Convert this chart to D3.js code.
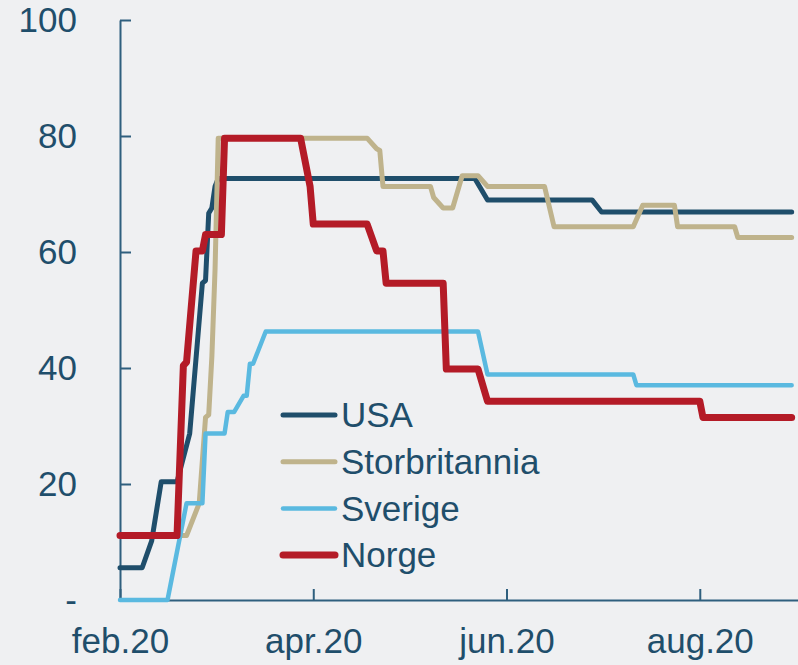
<!DOCTYPE html>
<html>
<head>
<meta charset="utf-8">
<script src="https://cdn.jsdelivr.net/npm/d3@7"></script>
<style>
  html, body { margin: 0; padding: 0; background: #eff0f2; }
  svg { display: block; }
  text { font-family: "Liberation Sans", Arial, sans-serif; }
</style>
</head>
<body>
<div id="chart"></div>
<script>
const seriesNames = ["USA", "Storbritannia", "Sverige", "Norge"];

const usa = [[0,5.56],[7,5.56],[10,10.19],[13,20.37],[18,20.37],[22,28.7],[26,54.63],[27,55.09],
  [28,66.67],[29,67.59],[30,71.3],[31,72.69],[112,72.69],[116,68.98],[149,68.98],[152,66.9],[212,66.9]];

const storbritannia = [[0,11.11],[21,11.11],[25,16.67],[27,31.48],[28,31.94],[29,42.0],[30,57.0],[31,79.63],
  [78,79.63],[81,77.8],[82,77.5],[83,71.3],[98,71.3],[99,69.4],[102,67.59],[105,67.59],[108,73.15],
  [113,73.15],[116,71.3],[134,71.3],[137,64.35],[162,64.35],[165,68.06],[175,68.06],[176,64.35],
  [194,64.35],[195,62.5],[212,62.5]];

const sverige = [[0,0],[15,0],[21,16.67],[26,16.67],[27,28.7],[33,28.7],[34,32.4],[36,32.4],[39,35.2],
  [40,35.2],[41,40.74],[42,40.74],[46,46.3],[113,46.3],[116,38.89],[162,38.89],[163,37.04],[212,37.04]];

const norge = [[0,11.11],[18,11.11],[20,40.4],[21,41.0],[24,60.19],[26,60.19],[27,63.0],[32,63.0],[33,79.63],
  [57,79.63],[60,71.3],[61,64.81],[78,64.81],[81,60.19],[83,60.19],[84,54.63],[102,54.63],[103,39.81],
  [113,39.81],[116,34.26],[183,34.26],[184,31.48],[212,31.48]];

const xTickDays = [0, 61, 122, 183];
const xTickLabels = ["feb.20", "apr.20", "jun.20", "aug.20"];
const yTicks = [0, 20, 40, 60, 80, 100];
const yTickLabels = ["-", "20", "40", "60", "80", "100"];

const seriesData = [usa, storbritannia, sverige, norge];
const colors = ["#1f4e6b", "#bfb38c", "#5ab9e0", "#b41b27"];
const widths = [5, 5, 4.5, 7];

const W = 798, H = 665;
const svg = d3.select("#chart").append("svg").attr("width", W).attr("height", H);
svg.append("rect").attr("width", W).attr("height", H).attr("fill", "#eff0f2");

const x = d3.scaleLinear().domain([0, 214]).range([120, 798]);
const y = d3.scaleLinear().domain([0, 100]).range([600, 20]);

const axisColor = "#2f5f7e";
const textColor = "#1f4e6b";

// Y axis
const yAxis = d3.axisLeft(y).tickValues(yTicks)
  .tickFormat((d, i) => yTickLabels[i])
  .tickSizeInner(-11).tickSizeOuter(0).tickPadding(43);
const gy = svg.append("g").attr("transform", `translate(${x(0)},0)`).call(yAxis);
gy.select(".domain").attr("stroke", axisColor).attr("stroke-width", 2);
gy.selectAll(".tick line").attr("stroke", axisColor).attr("stroke-width", 2);
gy.selectAll(".tick text").attr("fill", textColor).attr("font-size", 35)
  .attr("font-family", "'Liberation Sans', Arial, sans-serif");

// X axis
const xAxis = d3.axisBottom(x).tickValues(xTickDays)
  .tickFormat((d, i) => xTickLabels[i])
  .tickSizeInner(-11).tickSizeOuter(0).tickPadding(28);
const gx = svg.append("g").attr("transform", `translate(0,${y(0)})`).call(xAxis);
gx.select(".domain").attr("stroke", axisColor).attr("stroke-width", 2);
gx.selectAll(".tick line").attr("stroke", axisColor).attr("stroke-width", 2);
gx.selectAll(".tick text").attr("fill", textColor).attr("font-size", 35)
  .attr("font-family", "'Liberation Sans', Arial, sans-serif");

// Lines
const line = d3.line().x(d => x(d[0])).y(d => y(d[1]));
svg.append("g").selectAll("path").data(seriesData).join("path")
  .attr("d", line)
  .attr("fill", "none")
  .attr("stroke", (d, i) => colors[i])
  .attr("stroke-width", (d, i) => widths[i])
  .attr("stroke-linejoin", "round")
  .attr("stroke-linecap", "round");

// Legend
const legend = svg.append("g");
const lg = legend.selectAll("g").data(seriesNames).join("g")
  .attr("transform", (d, i) => `translate(283,${415 + i * 46.7})`);
lg.append("line").attr("x1", 0).attr("x2", 52).attr("y1", 0).attr("y2", 0)
  .attr("stroke", (d, i) => colors[i])
  .attr("stroke-width", (d, i) => widths[i])
  .attr("stroke-linecap", "round");
lg.append("text").attr("x", 58).attr("y", 0).attr("dy", "0.35em")
  .attr("fill", textColor).attr("font-size", 35).text(d => d);
</script>
</body>
</html>
